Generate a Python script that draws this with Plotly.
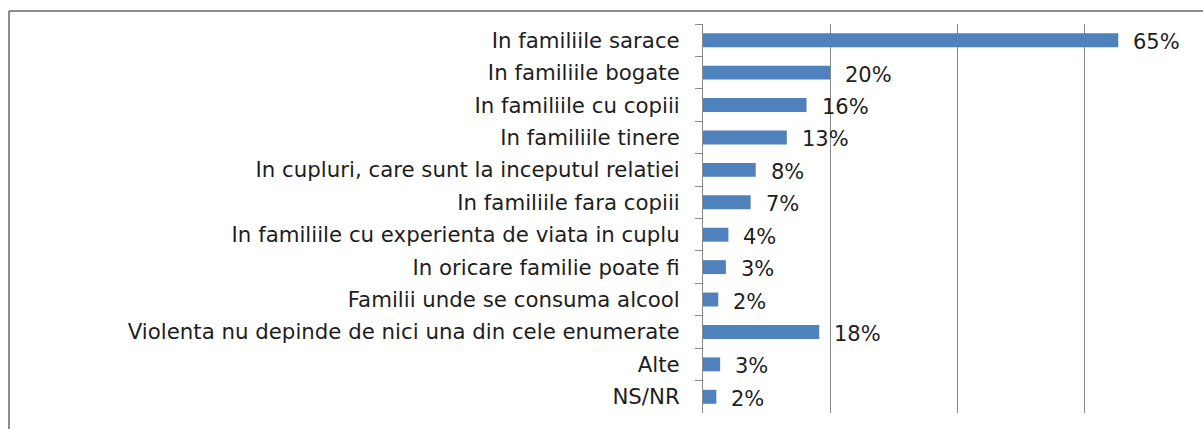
import plotly.graph_objects as go

categories = [
    "In familiile sarace",
    "In familiile bogate",
    "In familiile cu copiii",
    "In familiile tinere",
    "In cupluri, care sunt la inceputul relatiei",
    "In familiile fara copiii",
    "In familiile cu experienta de viata in cuplu",
    "In oricare familie poate fi",
    "Familii unde se consuma alcool",
    "Violenta nu depinde de nici una din cele enumerate",
    "Alte",
    "NS/NR",
]
values = [65.4, 20.0, 16.3, 13.2, 8.3, 7.5, 4.0, 3.6, 2.4, 18.3, 2.7, 2.1]
value_labels = ["65%", "20%", "16%", "13%", "8%", "7%", "4%", "3%", "2%", "18%", "3%", "2%"]

FONT = "DejaVu Sans"
W, H = 1203, 429
L, T, B, R = 703, 24, 16, 0
pw = W - L - R
ph = H - T - B

fig = go.Figure()
fig.add_trace(go.Bar(
    x=values, y=categories, orientation="h",
    marker=dict(color="#4f81bd", line=dict(width=0)),
    hoverinfo="skip",
))

for v, c, t in zip(values, categories, value_labels):
    fig.add_annotation(x=v, y=c, text=t, showarrow=False, xanchor="left",
                       xshift=13, yshift=-2,
                       font=dict(family=FONT, size=21, color="#1e1e1e"))

def px_x(p):
    return (p - L) / pw

def px_y(p):
    return (H - B - p) / ph

# outer chart frame (left and top edges visible)
fig.add_shape(type="line", xref="paper", yref="paper",
              x0=px_x(9), x1=px_x(9), y0=px_y(432), y1=px_y(11),
              line=dict(color="#8c8c8c", width=2))
fig.add_shape(type="line", xref="paper", yref="paper",
              x0=px_x(9), x1=px_x(1210), y0=px_y(11), y1=px_y(11),
              line=dict(color="#8c8c8c", width=2))

fig.update_layout(
    width=W, height=H,
    margin=dict(l=L, r=R, t=T, b=B, pad=0),
    paper_bgcolor="white", plot_bgcolor="white",
    bargap=0.57,
    showlegend=False,
    font=dict(family=FONT, size=21, color="#1e1e1e"),
)
fig.update_xaxes(range=[0, pw / 6.35], dtick=20, showgrid=True,
                 gridcolor="#8a8a8a", gridwidth=1, showticklabels=False,
                 zeroline=False, showline=False, ticks="", fixedrange=True)
fig.update_yaxes(autorange="reversed", showline=True, linecolor="#8a8a8a",
                 linewidth=1, ticks="outside", tickson="boundaries", ticklen=7,
                 tickcolor="#8a8a8a", ticklabelstandoff=18,
                 tickfont=dict(family=FONT, size=21.3, color="#1e1e1e"),
                 showgrid=False, fixedrange=True)

fig.write_html("out.html", config={"displayModeBar": False},
               post_script="document.body.style.margin='0';")
